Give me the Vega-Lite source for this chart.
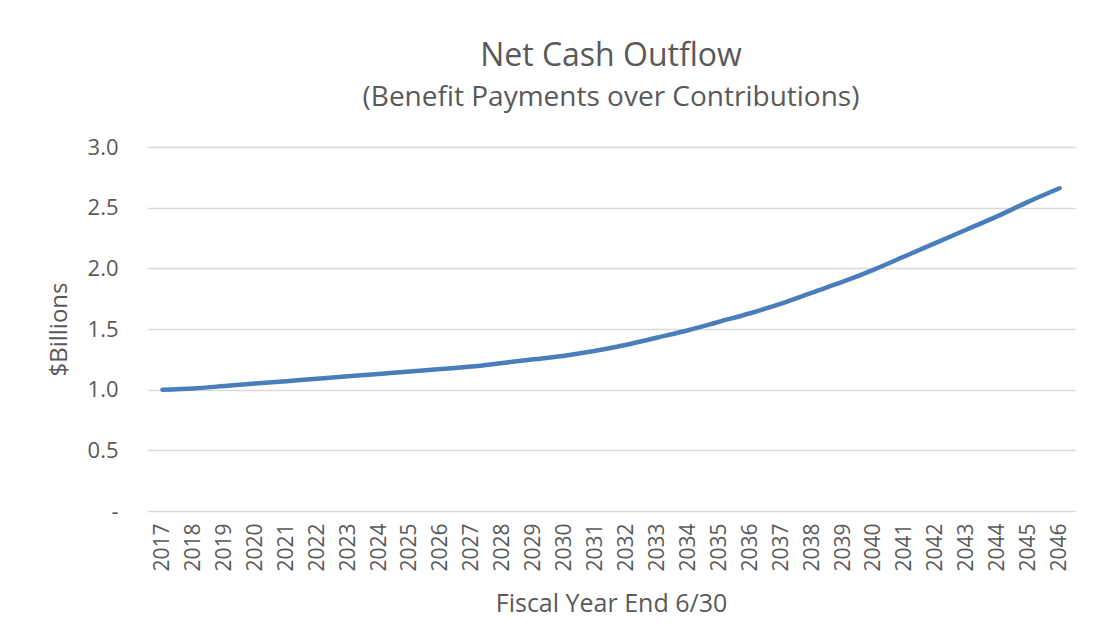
{
  "$schema": "https://vega.github.io/schema/vega-lite/v6.json",
  "autosize": "none",
  "width": 928,
  "height": 364,
  "padding": {"left": 147, "top": 147, "right": 18, "bottom": 133},
  "background": "white",
  "title": {
    "text": "Net Cash Outflow",
    "subtitle": "(Benefit Payments over Contributions)",
    "anchor": "middle",
    "font": "Open Sans",
    "fontSize": 32,
    "fontWeight": "normal",
    "color": "#595959",
    "subtitleFont": "Open Sans",
    "subtitleFontSize": 28,
    "subtitleColor": "#595959",
    "subtitlePadding": 11,
    "offset": 23
  },
  "data": {
    "values": [
      {"year": "2017", "value": 1.00},
      {"year": "2018", "value": 1.01},
      {"year": "2019", "value": 1.03},
      {"year": "2020", "value": 1.05},
      {"year": "2021", "value": 1.07},
      {"year": "2022", "value": 1.09},
      {"year": "2023", "value": 1.11},
      {"year": "2024", "value": 1.13},
      {"year": "2025", "value": 1.15},
      {"year": "2026", "value": 1.17},
      {"year": "2027", "value": 1.19},
      {"year": "2028", "value": 1.22},
      {"year": "2029", "value": 1.25},
      {"year": "2030", "value": 1.28},
      {"year": "2031", "value": 1.32},
      {"year": "2032", "value": 1.37},
      {"year": "2033", "value": 1.43},
      {"year": "2034", "value": 1.49},
      {"year": "2035", "value": 1.56},
      {"year": "2036", "value": 1.63},
      {"year": "2037", "value": 1.71},
      {"year": "2038", "value": 1.80},
      {"year": "2039", "value": 1.89},
      {"year": "2040", "value": 1.99},
      {"year": "2041", "value": 2.10},
      {"year": "2042", "value": 2.21},
      {"year": "2043", "value": 2.32},
      {"year": "2044", "value": 2.43},
      {"year": "2045", "value": 2.55},
      {"year": "2046", "value": 2.66}
    ]
  },
  "mark": {"type": "line", "color": "#4a7ebb", "strokeWidth": 4.5, "interpolate": "monotone", "strokeCap": "round"},
  "encoding": {
    "x": {
      "field": "year",
      "type": "ordinal",
      "scale": {"type": "point", "padding": 0.5},
      "axis": {
        "title": "Fiscal Year End 6/30",
        "titleFont": "Open Sans",
        "titleFontSize": 25,
        "titleFontWeight": "normal",
        "titleColor": "#595959",
        "titlePadding": 20,
        "labelAngle": -90,
        "labelFont": "Open Sans",
        "labelFontSize": 21,
        "labelColor": "#595959",
        "labelPadding": 12,
        "ticks": false,
        "domain": false,
        "grid": false
      }
    },
    "y": {
      "field": "value",
      "type": "quantitative",
      "scale": {"domain": [0, 3]},
      "axis": {
        "title": "$Billions",
        "titleFont": "Open Sans",
        "titleFontSize": 24,
        "titleFontWeight": "normal",
        "titleColor": "#595959",
        "titlePadding": 16,
        "values": [0, 0.5, 1, 1.5, 2, 2.5, 3],
        "labelExpr": "datum.value == 0 ? '-' : format(datum.value, '.1f')",
        "labelFont": "Open Sans",
        "labelFontSize": 22,
        "labelColor": "#595959",
        "labelPadding": 29,
        "ticks": false,
        "domain": false,
        "grid": true,
        "gridColor": "#d9d9d9",
        "gridWidth": 1.3
      }
    }
  },
  "config": {"view": {"stroke": null}}
}
